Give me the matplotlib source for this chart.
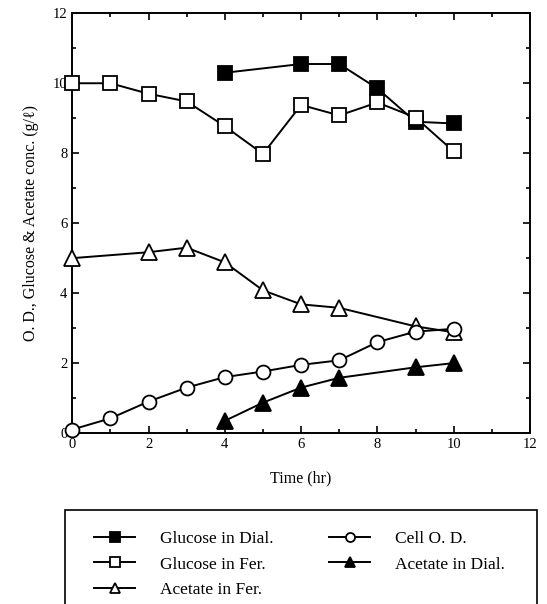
import matplotlib.pyplot as plt
from matplotlib.ticker import MultipleLocator
from matplotlib.patches import Rectangle

plt.rcParams['font.family'] = ['Liberation Serif', 'DejaVu Serif']

# data
t_gluc_dial = [4, 6, 7, 8, 9, 10]
gluc_dial = [10.3, 10.55, 10.55, 9.85, 8.9, 8.85]

t_gluc_fer = [0, 1, 2, 3, 4, 5, 6, 7, 8, 9, 10]
gluc_fer = [10.0, 10.0, 9.7, 9.48, 8.77, 7.98, 9.38, 9.08, 9.45, 9.02, 8.05]

t_acet_fer = [0, 2, 3, 4, 5, 6, 7, 9, 10]
acet_fer = [5.0, 5.17, 5.3, 4.88, 4.08, 3.68, 3.58, 3.05, 2.88]

t_od = [0, 1, 2, 3, 4, 5, 6, 7, 8, 9, 10]
cell_od = [0.1, 0.42, 0.9, 1.3, 1.6, 1.76, 1.95, 2.08, 2.6, 2.9, 2.98]

t_acet_dial = [4, 5, 6, 7, 9, 10]
acet_dial = [0.35, 0.87, 1.3, 1.58, 1.88, 2.0]

fig = plt.figure(figsize=(5.47, 6.04), dpi=100)
ax = fig.add_axes([0.132, 0.283, 0.837, 0.695])

kw = dict(color='black', lw=1.4, ms=10, mec='black', mew=1.3, clip_on=False, zorder=3)
tri = {**kw, 'ms': 12}
h1, = ax.plot(t_gluc_dial, gluc_dial, marker='s', mfc='black', label='Glucose in Dial.', **kw)
h2, = ax.plot(t_gluc_fer, gluc_fer, marker='s', mfc='white', label='Glucose in Fer.', **kw)
h3, = ax.plot(t_acet_fer, acet_fer, marker='^', mfc='white', label='Acetate in Fer.', **tri)
h4, = ax.plot(t_od, cell_od, marker='o', mfc='white', label='Cell O. D.', **kw)
h5, = ax.plot(t_acet_dial, acet_dial, marker='^', mfc='black', label='Acetate in Dial.', **tri)

ax.set_xlim(0, 12)
ax.set_ylim(0, 12)
ax.xaxis.set_major_locator(MultipleLocator(2))
ax.xaxis.set_minor_locator(MultipleLocator(1))
ax.yaxis.set_major_locator(MultipleLocator(2))
ax.yaxis.set_minor_locator(MultipleLocator(1))
ax.tick_params(which='both', direction='in', top=True, right=True, labelsize=10.5, width=1.2)
ax.tick_params(which='major', length=5)
ax.tick_params(which='minor', length=3)
for s in ax.spines.values():
    s.set_linewidth(1.4)

ax.set_xlabel('Time (hr)', fontsize=11.5, labelpad=14)
ax.set_ylabel('O. D., Glucose & Acetate conc. (g/ℓ)', fontsize=11.5, labelpad=10)

# legend box runs off the bottom of the page in the original
fig.patches.append(Rectangle((65 / 547, -0.05), 472 / 547, 0.05 + 94 / 604,
                             transform=fig.transFigure, fill=False,
                             edgecolor='black', lw=1.2, clip_on=False))
fig.legend(handles=[h1, h2, h3, h4, h5], ncol=2, loc='upper left',
           bbox_to_anchor=(85 / 547, 1 - 522 / 604), bbox_transform=fig.transFigure,
           fontsize=12.5, markerscale=0.65, handlelength=2.4, handletextpad=1.4,
           columnspacing=3.2, labelspacing=0.55, frameon=False, borderpad=0)

fig.savefig('out.png', dpi=100)
